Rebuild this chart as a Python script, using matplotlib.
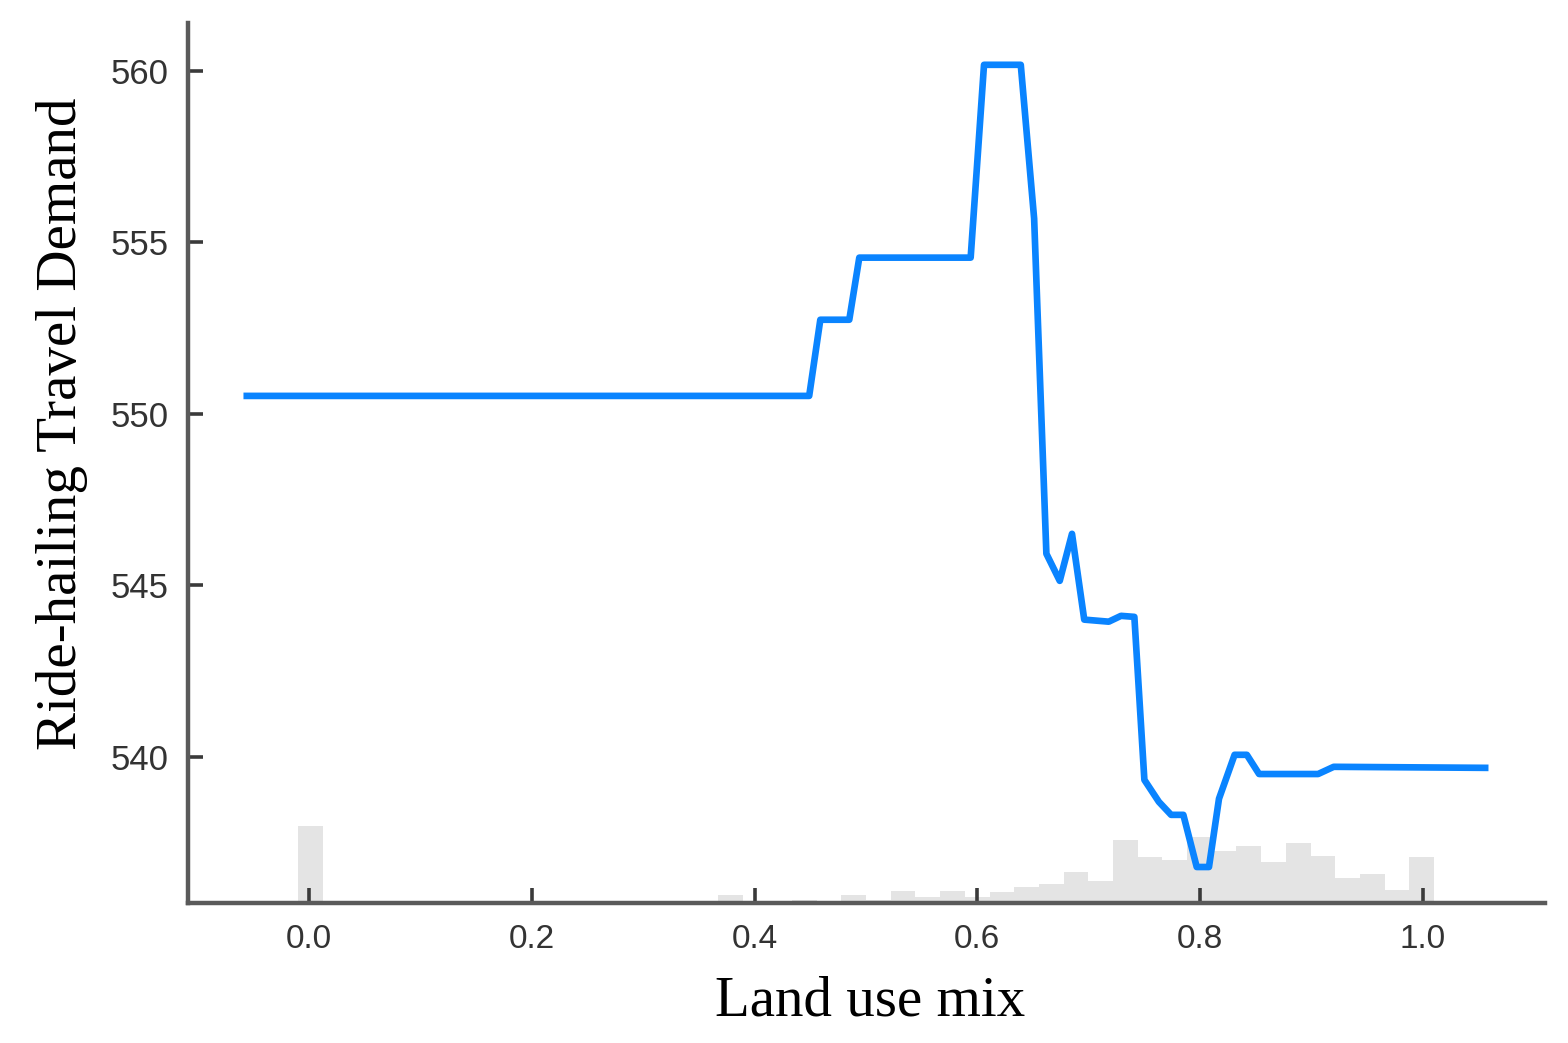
import numpy as np
import matplotlib
matplotlib.use("Agg")
import matplotlib.pyplot as plt

# partial dependence curve
land_use_mix = [-0.056, 0.449, 0.459, 0.485, 0.494, 0.594, 0.606, 0.639, 0.651,
                0.662, 0.674, 0.685, 0.696, 0.718, 0.729, 0.741, 0.750, 0.763,
                0.774, 0.785, 0.797, 0.808, 0.817, 0.831, 0.842, 0.853, 0.906,
                0.920, 1.056]
demand = [550.52, 550.52, 552.74, 552.74, 554.55, 554.55, 560.17, 560.17, 555.69,
          545.92, 545.13, 546.50, 544.00, 543.94, 544.11, 544.08, 539.33, 538.69,
          538.31, 538.31, 536.79, 536.79, 538.78, 540.06, 540.06, 539.50, 539.50,
          539.71, 539.68]

# distribution of the feature (relative counts per bin)
hist_range = (-0.0099, 1.0101)
hist_counts = [77, 0, 0, 0, 0, 0, 0, 0, 0, 0, 0, 0, 0, 0, 0, 0,
               2, 8, 1, 1, 3, 1, 8, 3, 12, 6, 12, 6, 11, 16, 19, 31,
               22, 63, 46, 43, 66, 52, 57, 41, 60, 47, 25, 29, 13, 46]

x_ticks = [0.0, 0.2, 0.4, 0.6, 0.8, 1.0]
x_tick_labels = ["0.0", "0.2", "0.4", "0.6", "0.8", "1.0"]
y_ticks = [540, 545, 550, 555, 560]

fig = plt.figure(figsize=(15.68, 10.43), dpi=100)
ax = fig.add_axes([0.1199, 0.1342, 0.8654, 0.8438])
ax2 = ax.twinx()

edges = np.linspace(hist_range[0], hist_range[1], len(hist_counts) + 1)
ax2.stairs(hist_counts, edges, fill=True, color="#e4e4e4", linewidth=0)
ax2.set_ylim(0, max(hist_counts) * 880 / 77)
ax2.axis("off")

ax.set_zorder(ax2.get_zorder() + 1)
ax.patch.set_visible(False)
ax.plot(land_use_mix, demand, color="#0a84ff", lw=4.8, solid_joinstyle="round")

ax.set_xlim(-0.1088, 1.1097)
ax.set_ylim(535.74, 561.39)
ax.set_xticks(x_ticks)
ax.set_xticklabels(x_tick_labels)
ax.set_yticks(y_ticks)

for side in ["top", "right"]:
    ax.spines[side].set_visible(False)
for side in ["left", "bottom"]:
    ax.spines[side].set_color("#5a5a5a")
    ax.spines[side].set_linewidth(3.2)

ax.tick_params(direction="in", length=11, width=2.6, color="#3a3a3a",
               labelcolor="#333333")
ax.tick_params(axis="y", labelsize=25, pad=14)
ax.tick_params(axis="x", labelsize=24, pad=15)
for lab in ax.get_xticklabels() + ax.get_yticklabels():
    lab.set_family("Liberation Sans")

ax.set_ylabel("Ride-hailing Travel Demand", family="Liberation Serif",
              fontsize=41, color="black")
ax.yaxis.set_label_coords(-0.074, 0.545)
ax.set_xlabel("Land use mix", family="Liberation Serif", fontsize=41, color="black")
ax.xaxis.set_label_coords(0.503, -0.082)
ax.xaxis.label.set_va("top")

fig.savefig("out.png", dpi=100)
